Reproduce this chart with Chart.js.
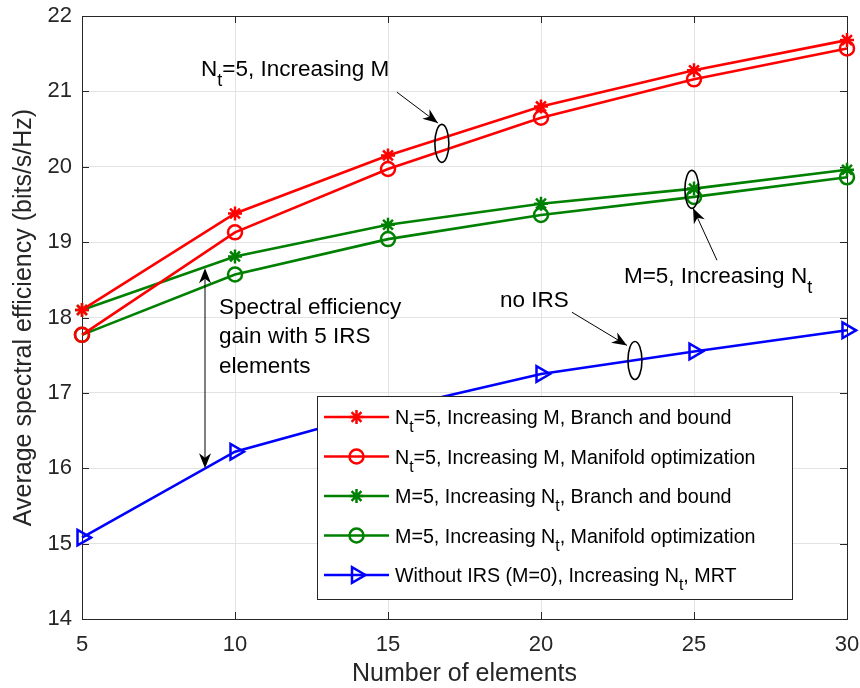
<!DOCTYPE html>
<html><head><meta charset="utf-8">
<script src="https://cdn.jsdelivr.net/npm/chart.js@4/dist/chart.umd.min.js"></script>
<style>html,body{margin:0;padding:0;background:#fff}canvas{display:block}</style>
</head><body>
<canvas id="c" width="860" height="688"></canvas>
<script>
// ---- data ----
const xValues = [5, 10, 15, 20, 25, 30];
const nt5BranchBound = [18.10, 19.38, 20.15, 20.80, 21.28, 21.68];
const nt5Manifold    = [17.77, 19.13, 19.97, 20.65, 21.16, 21.57];
const m5BranchBound  = [18.10, 18.81, 19.23, 19.51, 19.71, 19.96];
const m5Manifold     = [17.77, 18.57, 19.04, 19.36, 19.60, 19.86];
const withoutIrsMrt  = [15.08, 16.22, 16.78, 17.25, 17.55, 17.83];
const seriesLabels = [
  'N_t=5, Increasing M, Branch and bound',
  'N_t=5, Increasing M, Manifold optimization',
  'M=5, Increasing N_t, Branch and bound',
  'M=5, Increasing N_t, Manifold optimization',
  'Without IRS (M=0), Increasing N_t, MRT'
];
const xTicks = [5, 10, 15, 20, 25, 30];
const yTicks = [14, 15, 16, 17, 18, 19, 20, 21, 22];
const xTitle = 'Number of elements';
const yTitle = 'Average spectral efficiency (bits/s/Hz)';
// annotation texts with anchor points in data units
const noteTexts = ['N_t=5, Increasing M', 'M=5, Increasing N_t', 'no IRS'];
const noteAnchors = [[8.89, 21.20], [22.71, 18.456], [18.66, 18.14]];
const arrowTails = [[15.29, 20.99], [25.75, 18.76], [21.01, 18.07]];
const arrowHeads = [[16.63, 20.58], [24.97, 19.45], [22.81, 17.63]];
const ellipseCenters = [[16.76, 20.31], [24.93, 19.70], [23.07, 17.43]];
const gainLines = ['Spectral efficiency', 'gain with 5 IRS', 'elements'];
const gainTextAnchor = [9.48, 18.05];
const gainArrowX = 9.02;
const gainArrowRange = [18.655, 16.00];

const FONT = '"Liberation Sans", Arial, Helvetica, sans-serif';
const RED = '#ff0000', GREEN = '#008000', BLUE = '#0000ff';
const colors = [RED, RED, GREEN, GREEN, BLUE];
const styles = ['star', 'circle', 'star', 'circle', 'triangle'];
const seriesData = [nt5BranchBound, nt5Manifold, m5BranchBound, m5Manifold, withoutIrsMrt];

function toPts(arr) { return arr.map((v, i) => ({x: xValues[i], y: v})); }

const datasets = seriesData.map((arr, i) => ({
  label: seriesLabels[i],
  data: toPts(arr),
  borderColor: colors[i],
  backgroundColor: 'rgba(0,0,0,0)',
  borderWidth: 2.6,
  pointStyle: styles[i],
  pointRadius: styles[i] === 'triangle' ? 9 : 7,
  pointBorderWidth: 2.5,
  pointRotation: styles[i] === 'triangle' ? 90 : 0,
  pointBorderColor: colors[i],
  pointBackgroundColor: 'rgba(0,0,0,0)',
  tension: 0,
  clip: false
}));

// text with "_x" subscripts
function drawRich(ctx, str, x, y, size) {
  ctx.textBaseline = 'alphabetic';
  ctx.textAlign = 'left';
  const parts = str.split(/(_\w)/);
  for (const p of parts) {
    if (!p) continue;
    if (p[0] === '_') {
      ctx.font = (size * 0.8) + 'px ' + FONT;
      ctx.fillText(p.slice(1), x, y + size * 0.42);
      x += ctx.measureText(p.slice(1)).width;
    } else {
      ctx.font = size + 'px ' + FONT;
      ctx.fillText(p, x, y);
      x += ctx.measureText(p).width;
    }
  }
}
function arrowHead(ctx, x1, y1, x2, y2, len, half) {
  const a = Math.atan2(y2 - y1, x2 - x1);
  const c = Math.cos(a), s = Math.sin(a);
  const bx = x2 - c * len, by = y2 - s * len;
  const mx = x2 - c * len * 0.7, my = y2 - s * len * 0.7;
  ctx.beginPath();
  ctx.moveTo(x2, y2);
  ctx.lineTo(bx - s * half, by + c * half);
  ctx.lineTo(mx, my);
  ctx.lineTo(bx + s * half, by - c * half);
  ctx.closePath();
  ctx.fill();
}
function drawMarker(ctx, style, color, x, y) {
  ctx.save();
  ctx.strokeStyle = color; ctx.lineWidth = 2.5;
  ctx.beginPath();
  if (style === 'circle') {
    ctx.arc(x, y, 7, 0, Math.PI * 2);
  } else if (style === 'star') {
    const r = 7;
    for (let k = 0; k < 4; k++) {
      const a = k * Math.PI / 4;
      ctx.moveTo(x - r * Math.cos(a), y - r * Math.sin(a));
      ctx.lineTo(x + r * Math.cos(a), y + r * Math.sin(a));
    }
  } else {
    const r = 9;
    ctx.moveTo(x + r, y);
    ctx.lineTo(x - r * 0.5, y - r * 0.866);
    ctx.lineTo(x - r * 0.5, y + r * 0.866);
    ctx.closePath();
  }
  ctx.stroke();
  ctx.restore();
}

const framePlugin = {
  id: 'frame',
  beforeDatasetsDraw(chart) {
    const {ctx, chartArea: a, scales: {x, y}} = chart;
    ctx.save();
    ctx.strokeStyle = '#262626';
    ctx.lineWidth = 1;
    ctx.strokeRect(Math.round(a.left) + 0.5, Math.round(a.top) + 0.5, Math.round(a.right - a.left), Math.round(a.bottom - a.top));
    ctx.beginPath();
    const tl = 7;
    xTicks.forEach(v => {
      const px = Math.round(x.getPixelForValue(v)) + 0.5;
      ctx.moveTo(px, a.bottom); ctx.lineTo(px, a.bottom - tl);
      ctx.moveTo(px, a.top); ctx.lineTo(px, a.top + tl);
    });
    yTicks.forEach(v => {
      const py = Math.round(y.getPixelForValue(v)) + 0.5;
      ctx.moveTo(a.left, py); ctx.lineTo(a.left + tl, py);
      ctx.moveTo(a.right, py); ctx.lineTo(a.right - tl, py);
    });
    ctx.stroke();
    ctx.restore();
  },
  afterDatasetsDraw(chart) {
    const {ctx, scales: {x, y}} = chart;
    const X = v => x.getPixelForValue(v), Y = v => y.getPixelForValue(v);
    ctx.save();
    ctx.fillStyle = '#000'; ctx.strokeStyle = '#000';
    noteTexts.forEach((t, i) => drawRich(ctx, t, X(noteAnchors[i][0]), Y(noteAnchors[i][1]), 22.5));
    ctx.lineWidth = 1;
    arrowTails.forEach((t, i) => {
      const x1 = X(t[0]), y1 = Y(t[1]), x2 = X(arrowHeads[i][0]), y2 = Y(arrowHeads[i][1]);
      ctx.beginPath(); ctx.moveTo(x1, y1); ctx.lineTo(x2, y2); ctx.stroke();
      arrowHead(ctx, x1, y1, x2, y2, 15, 6);
    });
    ctx.lineWidth = 1.6;
    ellipseCenters.forEach(c => {
      ctx.beginPath(); ctx.ellipse(X(c[0]), Y(c[1]), 7, 19, 0, 0, Math.PI * 2); ctx.stroke();
    });
    const gx = X(gainArrowX), gy1 = Y(gainArrowRange[0]), gy2 = Y(gainArrowRange[1]);
    ctx.lineWidth = 1;
    ctx.beginPath(); ctx.moveTo(gx, gy1 + 4); ctx.lineTo(gx, gy2 - 4); ctx.stroke();
    arrowHead(ctx, gx, gy2, gx, gy1, 15, 6);
    arrowHead(ctx, gx, gy1, gx, gy2, 15, 6);
    const tx = X(gainTextAnchor[0]);
    gainLines.forEach((t, i) => drawRich(ctx, t, tx, Y(gainTextAnchor[1]) + i * 29.5, 22.5));

    // legend
    const L = 317, T = 396, R = 792, B = 599;
    ctx.fillStyle = '#fff';
    ctx.fillRect(L, T, R - L, B - T);
    ctx.strokeStyle = '#262626'; ctx.lineWidth = 1;
    ctx.strokeRect(L + 0.5, T + 0.5, R - L, B - T);
    chart.data.datasets.forEach((d, i) => {
      const cy = 417 + i * 39.5;
      ctx.strokeStyle = d.borderColor; ctx.lineWidth = 2.6;
      ctx.beginPath(); ctx.moveTo(324, cy); ctx.lineTo(389, cy); ctx.stroke();
      drawMarker(ctx, d.pointStyle, d.borderColor, 356.5, cy);
      ctx.fillStyle = '#000';
      drawRich(ctx, d.label, 395, cy + 7, 19.7);
    });
    ctx.restore();
  }
};

new Chart(document.getElementById('c'), {
  type: 'line',
  data: {datasets},
  plugins: [framePlugin],
  options: {
    responsive: false,
    animation: false,
    devicePixelRatio: 1,
    layout: {padding: {left: 0, right: 13, top: 16, bottom: 0}},
    plugins: {legend: {display: false}, tooltip: {enabled: false}},
    scales: {
      x: {
        type: 'linear', min: 5, max: 30,
        afterBuildTicks: s => { s.ticks = xTicks.map(v => ({value: v})); },
        afterFit: s => { s.height = 69; s.paddingLeft = 0; s.paddingRight = 0; },
        grid: {color: '#e3e3e3', lineWidth: 1, drawTicks: false},
        border: {display: false},
        ticks: {color: '#262626', font: {family: FONT, size: 22}, padding: 13, maxRotation: 0},
        title: {display: true, text: xTitle, color: '#262626', font: {family: FONT, size: 25, lineHeight: 1}, padding: {top: 0, bottom: 1}}
      },
      y: {
        type: 'linear', min: 14, max: 22,
        afterBuildTicks: s => { s.ticks = yTicks.map(v => ({value: v})); },
        afterFit: s => { s.width = 82; s.paddingTop = 0; s.paddingBottom = 0; },
        grid: {color: '#e3e3e3', lineWidth: 1, drawTicks: false},
        border: {display: false},
        ticks: {color: '#262626', font: {family: FONT, size: 22}, padding: 10},
        title: {display: true, text: yTitle, color: '#262626', font: {family: FONT, size: 25, lineHeight: 1}, padding: {top: 12, bottom: 0}}
      }
    }
  }
});
</script>
</body></html>
